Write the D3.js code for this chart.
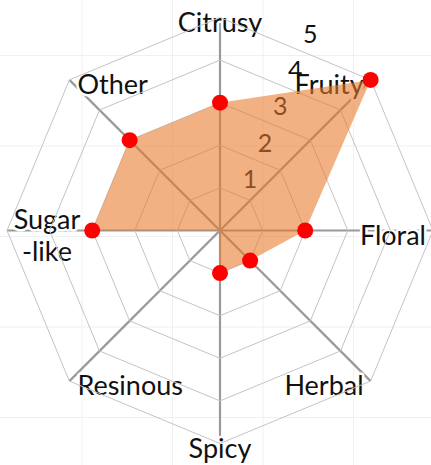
<!DOCTYPE html>
<html>
<head>
<meta charset="utf-8">
<script src="https://cdn.jsdelivr.net/npm/d3@7"></script>
<style>
  body { margin: 0; background: #fff; }
  text { font-family: Lato, "Open Sans", sans-serif; }
</style>
</head>
<body>
<script>
// flavour profile
var axes = [["Citrusy"], ["Fruity"], ["Floral"], ["Herbal"], ["Spicy"], ["Resinous"], ["Sugar", "-like"], ["Other"]];
var values = [3, 5, 2, 1, 1, 0, 3, 3];
var ticks = [1, 2, 3, 4, 5];

var width = 431, height = 465;
var cx = 220, cy = 230.5, R = 213;
var n = axes.length;

var svg = d3.select("body").append("svg").attr("width", width).attr("height", height);

var r = d3.scaleLinear().domain([0, 5]).range([0, R]);
var angle = function (i) { return i * 2 * Math.PI / n; };

// faint background grid
var bg = svg.append("g");
bg.selectAll("line.v").data(d3.range(82, width, 90.5)).enter().append("line")
    .attr("x1", function (d) { return d; }).attr("x2", function (d) { return d; })
    .attr("y1", 0).attr("y2", height)
    .attr("stroke", "#f0f0f0").attr("stroke-width", 1);
bg.selectAll("line.h").data(d3.range(55.5, height, 90.5)).enter().append("line")
    .attr("y1", function (d) { return d; }).attr("y2", function (d) { return d; })
    .attr("x1", 0).attr("x2", width)
    .attr("stroke", "#f0f0f0").attr("stroke-width", 1);

var g = svg.append("g").attr("transform", "translate(" + cx + "," + cy + ")");

// spokes
g.selectAll("line.spoke").data(axes).enter().append("line")
    .attr("class", "spoke")
    .attr("x1", 0).attr("y1", 0)
    .attr("x2", function (d, i) { return d3.pointRadial(angle(i), R)[0]; })
    .attr("y2", function (d, i) { return d3.pointRadial(angle(i), R)[1]; })
    .attr("stroke", "#999").attr("stroke-width", 2.2);

// axis labels (white halo hides the spoke under them)
var lab = g.selectAll("text.axis").data(axes).enter().append("text")
    .attr("class", "axis")
    .attr("font-size", 27)
    .attr("fill", "#111")
    .attr("stroke", "#fff").attr("stroke-width", 5).attr("paint-order", "stroke")
    .attr("stroke-linejoin", "round")
    .attr("text-anchor", function (d, i) {
        var x = d3.pointRadial(angle(i), R)[0];
        if (d.length > 1) return "middle";
        return x > 1 ? "end" : (x < -1 ? "start" : "middle");
    })
    .attr("transform", function (d, i) {
        var p = d3.pointRadial(angle(i), R);
        var dx = 0;
        if (d.length > 1) dx = p[0] < 0 ? 40 : -40;
        else if (p[0] > 1) dx = -7;
        else if (p[0] < -1) dx = 8;
        return "translate(" + (p[0] + dx) + "," + (p[1] + 14 - (d.length - 1) * 16) + ")";
    });
lab.selectAll("tspan").data(function (d) { return d; }).enter().append("tspan")
    .attr("x", 0)
    .attr("dy", function (d, i) { return i === 0 ? 0 : 32; })
    .text(function (d) { return d; });

// rings
var ring = d3.lineRadial().angle(function (d, i) { return angle(i); }).curve(d3.curveLinearClosed);
g.selectAll("path.ring").data(ticks).enter().append("path")
    .attr("class", "ring")
    .attr("d", function (t) { return ring.radius(r(t))(axes); })
    .attr("fill", "none").attr("stroke", "#c4c4c4").attr("stroke-width", 1);

// tick labels
g.selectAll("text.tick").data(ticks).enter().append("text")
    .attr("class", "tick")
    .attr("font-size", 25)
    .attr("fill", "#111")
    .attr("text-anchor", "middle")
    .attr("dominant-baseline", "central")
    .attr("x", function (t) { return d3.pointRadial(Math.PI / n, r(t) * Math.cos(Math.PI / n))[0] + 15; })
    .attr("y", function (t) { return d3.pointRadial(Math.PI / n, r(t) * Math.cos(Math.PI / n))[1] - 16; })
    .text(function (t) { return t; });

// area
var area = d3.lineRadial()
    .angle(function (d, i) { return angle(i); })
    .radius(function (d) { return r(d); })
    .curve(d3.curveLinearClosed);
g.append("path")
    .attr("d", area(values))
    .attr("fill", "#e8782a")
    .attr("fill-opacity", 0.58);

// points
g.selectAll("circle.pt").data(values.map(function (v, i) { return { v: v, i: i }; }).filter(function (d) { return d.v > 0; }))
    .enter().append("circle")
    .attr("class", "pt")
    .attr("cx", function (d) { return d3.pointRadial(angle(d.i), r(d.v))[0]; })
    .attr("cy", function (d) { return d3.pointRadial(angle(d.i), r(d.v))[1]; })
    .attr("r", 8)
    .attr("fill", "#ff0000");
</script>
</body>
</html>
